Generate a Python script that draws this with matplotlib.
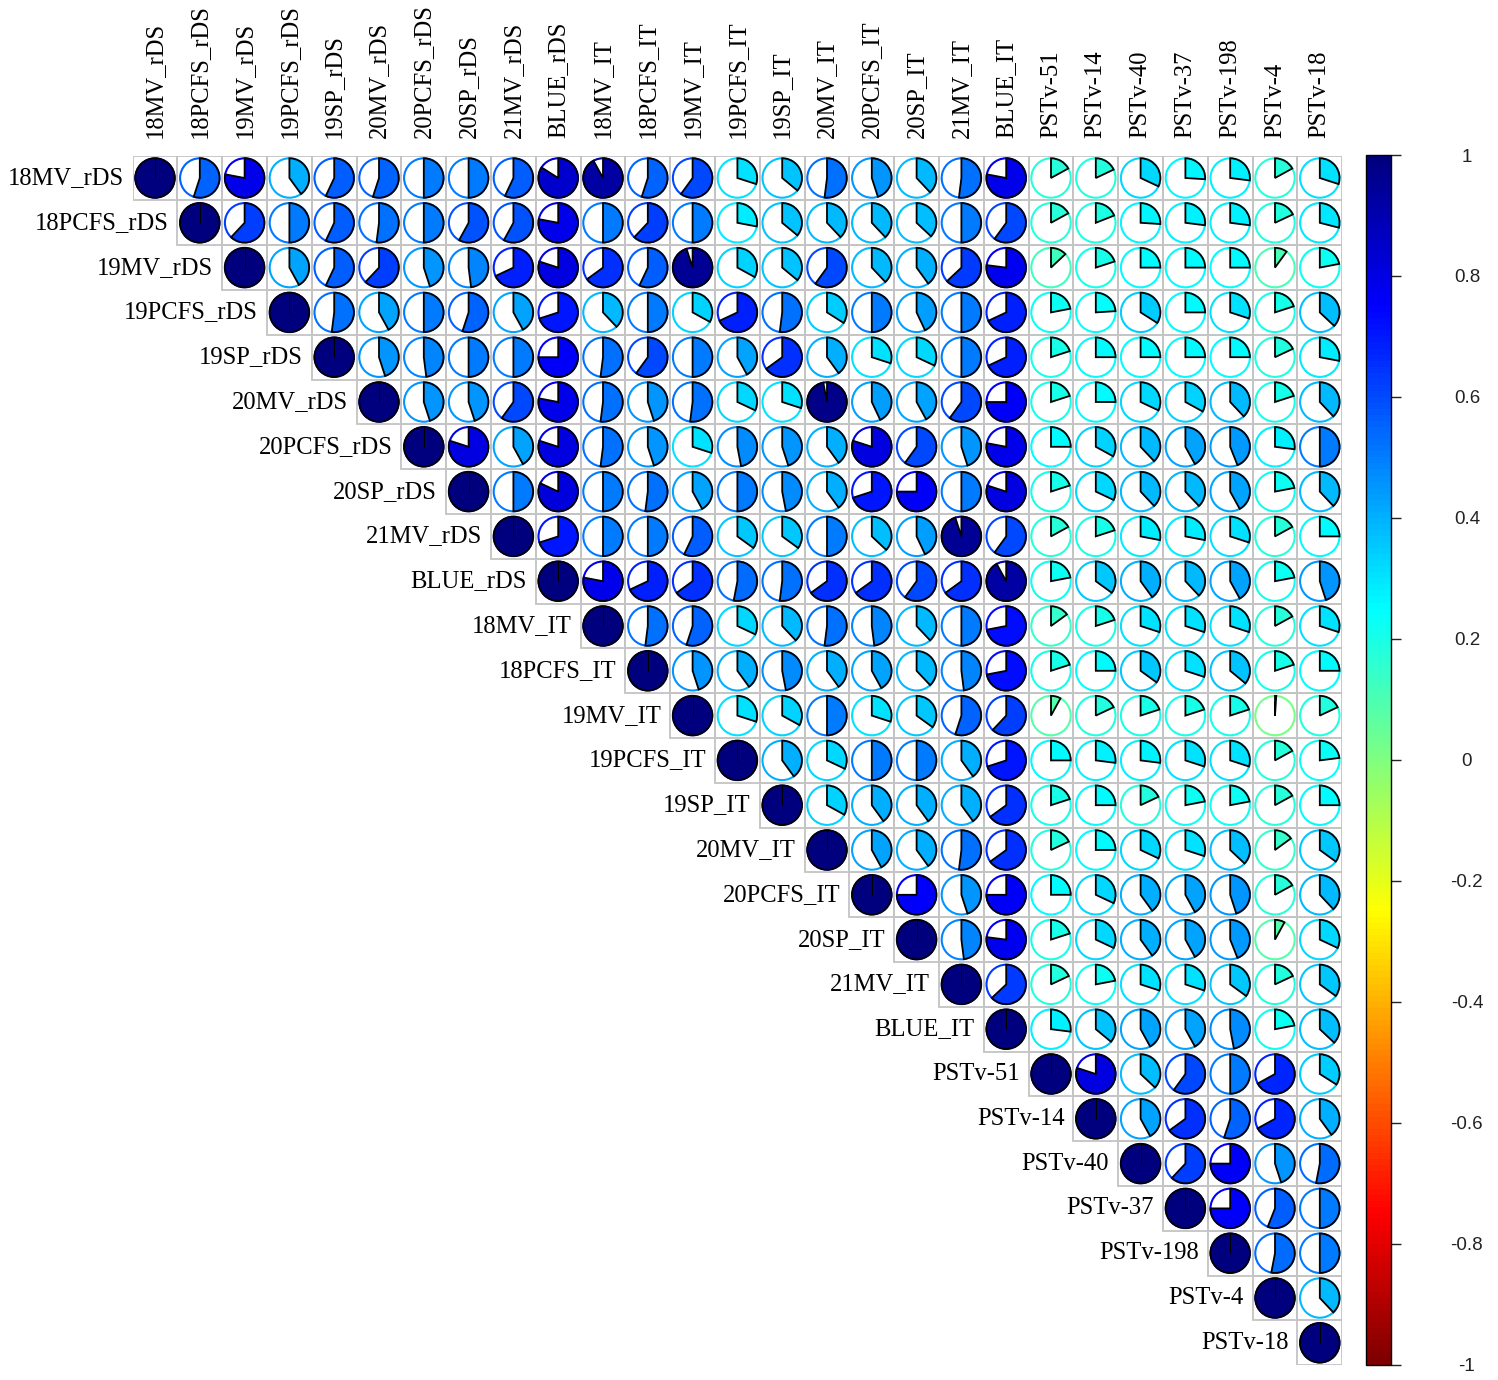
import numpy as np
import matplotlib
matplotlib.use('Agg')
import matplotlib.pyplot as plt
import matplotlib as mpl
from matplotlib.patches import Wedge, Circle, Rectangle
from matplotlib.colors import LinearSegmentedColormap, Normalize

labels = ["18MV_rDS", "18PCFS_rDS", "19MV_rDS", "19PCFS_rDS", "19SP_rDS", "20MV_rDS",
          "20PCFS_rDS", "20SP_rDS", "21MV_rDS", "BLUE_rDS", "18MV_IT", "18PCFS_IT",
          "19MV_IT", "19PCFS_IT", "19SP_IT", "20MV_IT", "20PCFS_IT", "20SP_IT",
          "21MV_IT", "BLUE_IT", "PSTv-51", "PSTv-14", "PSTv-40", "PSTv-37",
          "PSTv-198", "PSTv-4", "PSTv-18"]

# upper-triangle correlations, row i holds columns i+1..27
row01 = [0.55, 0.78, 0.40, 0.57, 0.55, 0.50, 0.50, 0.57, 0.84, 0.92, 0.55, 0.60, 0.30,
         0.36, 0.52, 0.45, 0.38, 0.52, 0.78, 0.17, 0.18, 0.32, 0.26, 0.27, 0.17, 0.30]
row02 = [0.62, 0.50, 0.57, 0.52, 0.50, 0.58, 0.58, 0.78, 0.50, 0.62, 0.50, 0.28, 0.36,
         0.38, 0.38, 0.37, 0.50, 0.60, 0.17, 0.19, 0.26, 0.27, 0.27, 0.18, 0.29]
row03 = [0.42, 0.57, 0.62, 0.45, 0.48, 0.68, 0.80, 0.65, 0.57, 0.95, 0.33, 0.36, 0.60,
         0.38, 0.40, 0.63, 0.77, 0.13, 0.20, 0.25, 0.25, 0.25, 0.10, 0.22]
row04 = [0.52, 0.42, 0.50, 0.55, 0.42, 0.70, 0.38, 0.50, 0.33, 0.68, 0.52, 0.34, 0.50,
         0.43, 0.50, 0.68, 0.22, 0.24, 0.34, 0.25, 0.30, 0.20, 0.37]
row05 = [0.45, 0.48, 0.50, 0.50, 0.75, 0.52, 0.60, 0.50, 0.42, 0.65, 0.40, 0.30, 0.32,
         0.50, 0.68, 0.20, 0.25, 0.25, 0.25, 0.25, 0.18, 0.28]
row06 = [0.45, 0.45, 0.60, 0.78, 0.52, 0.45, 0.52, 0.32, 0.30, 0.97, 0.43, 0.42, 0.60,
         0.75, 0.20, 0.25, 0.32, 0.33, 0.38, 0.20, 0.38]
row07 = [0.80, 0.42, 0.80, 0.52, 0.45, 0.30, 0.47, 0.45, 0.40, 0.80, 0.60, 0.45, 0.78,
         0.25, 0.33, 0.38, 0.42, 0.44, 0.27, 0.50]
row08 = [0.50, 0.82, 0.50, 0.52, 0.42, 0.50, 0.47, 0.40, 0.70, 0.75, 0.50, 0.80, 0.20,
         0.32, 0.38, 0.38, 0.42, 0.22, 0.38]
row09 = [0.70, 0.50, 0.50, 0.57, 0.35, 0.35, 0.50, 0.37, 0.43, 0.95, 0.60, 0.17, 0.20,
         0.28, 0.28, 0.30, 0.17, 0.25]
row10 = [0.78, 0.68, 0.65, 0.53, 0.52, 0.65, 0.65, 0.60, 0.65, 0.92, 0.22, 0.35, 0.40,
         0.38, 0.42, 0.22, 0.45]
row11 = [0.52, 0.55, 0.32, 0.38, 0.52, 0.48, 0.38, 0.50, 0.72, 0.15, 0.20, 0.30, 0.30,
         0.30, 0.17, 0.30]
row12 = [0.45, 0.40, 0.47, 0.40, 0.42, 0.38, 0.48, 0.72, 0.20, 0.25, 0.35, 0.30, 0.36,
         0.20, 0.25]
row13 = [0.30, 0.33, 0.50, 0.30, 0.35, 0.55, 0.62, 0.08, 0.18, 0.20, 0.20, 0.20, 0.01, 0.18]
row14 = [0.40, 0.32, 0.50, 0.50, 0.40, 0.70, 0.25, 0.27, 0.27, 0.30, 0.30, 0.17, 0.23]
row15 = [0.33, 0.40, 0.40, 0.40, 0.65, 0.20, 0.25, 0.18, 0.22, 0.22, 0.17, 0.25]
row16 = [0.42, 0.40, 0.52, 0.65, 0.18, 0.25, 0.32, 0.30, 0.37, 0.15, 0.35]
row17 = [0.75, 0.45, 0.75, 0.25, 0.32, 0.40, 0.42, 0.45, 0.17, 0.38]
row18 = [0.48, 0.77, 0.20, 0.32, 0.40, 0.42, 0.44, 0.08, 0.32]
row19 = [0.63, 0.18, 0.22, 0.30, 0.30, 0.35, 0.18, 0.35]
row20 = [0.27, 0.36, 0.42, 0.42, 0.47, 0.22, 0.37]
row21 = [0.80, 0.37, 0.60, 0.50, 0.67, 0.34]
row22 = [0.42, 0.65, 0.55, 0.67, 0.40]
row23 = [0.62, 0.75, 0.45, 0.53]
row24 = [0.75, 0.56, 0.50]
row25 = [0.53, 0.50]
row26 = [0.38]

cb_ticks = [-1, -0.8, -0.6, -0.4, -0.2, 0, 0.2, 0.4, 0.6, 0.8, 1]
cb_labels = ["-1", "-0.8", "-0.6", "-0.4", "-0.2", "0", "0.2", "0.4", "0.6", "0.8", "1"]

rows = [row01, row02, row03, row04, row05, row06, row07, row08, row09, row10, row11,
        row12, row13, row14, row15, row16, row17, row18, row19, row20, row21, row22,
        row23, row24, row25, row26]

n = len(labels)
corr = np.eye(n)
for i, vals in enumerate(rows):
    for k, v in enumerate(vals):
        j = i + 1 + k
        corr[i, j] = v
        corr[j, i] = v

cmap = LinearSegmentedColormap.from_list(
    "jetR", ["#7F0000", "#FF0000", "#FF7F00", "#FFFF00", "#7FFF7F",
             "#00FFFF", "#007FFF", "#0000FF", "#00007F"], N=200)
norm = Normalize(-1, 1)

W, H = 1498, 1380
fig = plt.figure(figsize=(W / 100, H / 100), dpi=100)
x0, x1 = 132.6, 1342.2
y0, y1 = 155.6, 1365.2
ax = fig.add_axes([x0 / W, 1 - y1 / H, (x1 - x0) / W, (y1 - y0) / H])
ax.set_xlim(0.5, n + 0.5)
ax.set_ylim(0.5, n + 0.5)
ax.axis('off')

serif = ['Liberation Serif', 'DejaVu Serif']
R = 0.44
for i in range(n):
    yc = n - i
    for j in range(i, n):
        xc = j + 1
        ax.add_patch(Rectangle((xc - 0.5, yc - 0.5), 1, 1, fill=False,
                               edgecolor='#C4C4C4', lw=1.3, zorder=1))
        v = corr[i, j]
        c = cmap(norm(v))
        ax.add_patch(Circle((xc, yc), R, fill=False, edgecolor=c, lw=1.5, zorder=2))
        if v >= 0.999:
            ax.add_patch(Circle((xc, yc), R, facecolor=c, edgecolor='black', lw=1.2, zorder=3))
            ax.plot([xc, xc], [yc, yc + R], color='black', lw=0.8, zorder=4)
        else:
            ax.add_patch(Wedge((xc, yc), R, 90 - 360 * v, 90, facecolor=c,
                               edgecolor='black', lw=1.3, zorder=3))
    ax.text(i + 1 - 0.5 - 0.2, yc, labels[i], ha='right', va='center',
            fontsize=17.7, family=serif, clip_on=False)
    ax.text(i + 1, n + 0.5 + 0.4, labels[i], ha='center', va='bottom', rotation=90,
            fontsize=17.7, family=serif, clip_on=False)

cax = fig.add_axes([1365.5 / W, 1 - 1364.5 / H, 25 / W, (1364.5 - 155) / H])
cb = mpl.colorbar.ColorbarBase(cax, cmap=cmap, norm=norm, orientation='vertical')
cb.set_ticks(cb_ticks)
cb.set_ticklabels(cb_labels)
cb.outline.set_linewidth(1.0)
cax.yaxis.set_ticks_position('right')
cax.tick_params(axis='y', length=7, width=1, pad=48, labelsize=13.5, colors='#222222')
for t in cax.get_yticklabels():
    t.set_horizontalalignment('center')
    t.set_family(['Liberation Sans', 'DejaVu Sans'])

fig.savefig('out.png', dpi=100, facecolor='white')
